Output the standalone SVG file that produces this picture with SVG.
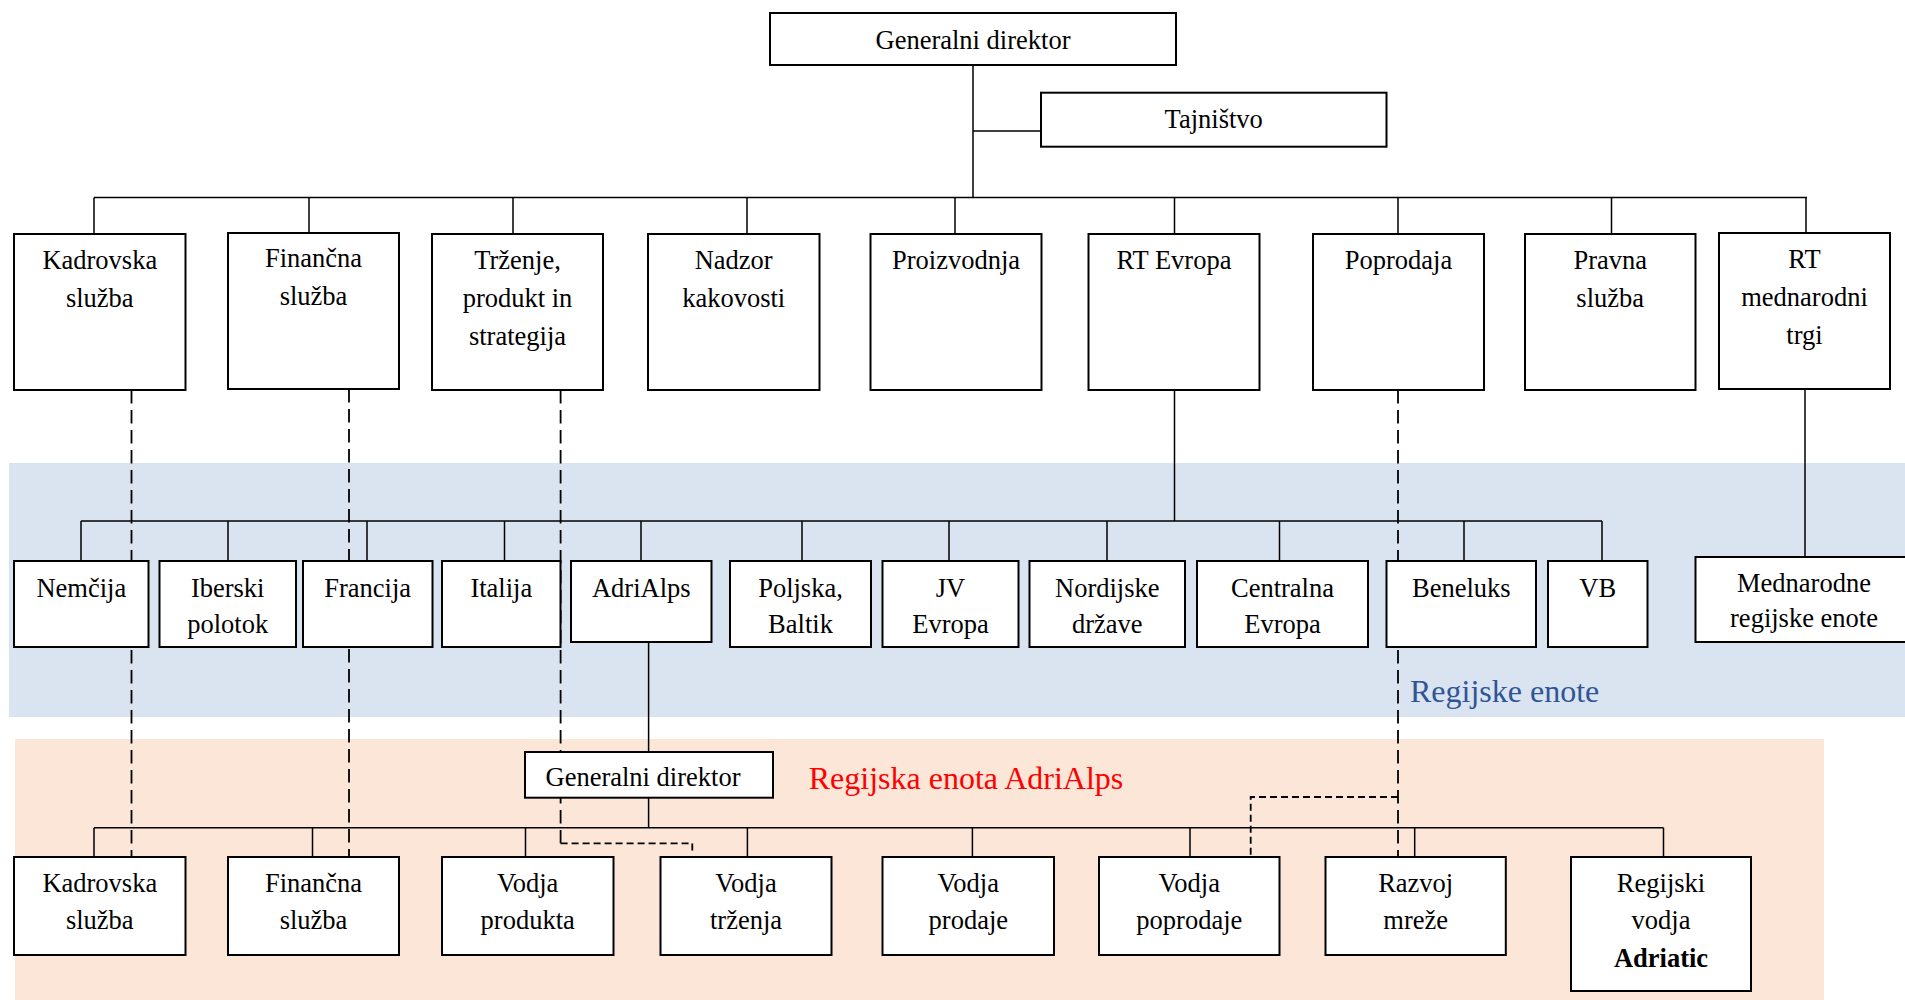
<svg xmlns="http://www.w3.org/2000/svg" width="1905" height="1000" viewBox="0 0 1905 1000">
  <style>
    .box { fill: #ffffff; stroke: #000000; stroke-width: 2; }
    .lbl { font-family: "Liberation Serif", "Times New Roman", serif; font-size: 26.5px; fill: #000000; text-anchor: middle; }
    .ln { fill: none; stroke: #000000; stroke-width: 1.5; }
    .dl { fill: none; stroke: #000000; stroke-width: 1.8; stroke-dasharray: 13.5 6.5; }
    .ds { fill: none; stroke: #000000; stroke-width: 1.8; stroke-dasharray: 7 4; }
    .band { font-family: "Liberation Serif", "Times New Roman", serif; font-size: 32px; }
  </style>

  <!-- background bands -->
  <rect x="0" y="0" width="1905" height="1000" fill="#ffffff"/>
  <rect id="band-regions" x="9" y="463" width="1896" height="254" fill="#DAE3F0"/>
  <rect id="band-adrialps" x="15" y="739" width="1809" height="261" fill="#FBE6D8"/>

  <!-- connectors -->
  <g id="connectors">
    <!-- head office -->
    <path class="ln" d="M973 65 V198 M973 131 H1041 M94 197.5 H1807"/>
    <path class="ln" d="M94 197.5 V234 M309 197.5 V234 M513 197.5 V234 M747 197.5 V234 M955 197.5 V234 M1174.5 197.5 V234 M1398 197.5 V234 M1611.5 197.5 V234 M1806 197.5 V234"/>
    <!-- regional units -->
    <path class="ln" d="M1174.5 390 V521 M81 521 H1602"/>
    <path class="ln" d="M81 521 V561 M228 521 V561 M367 521 V561 M504.5 521 V561 M641 521 V561 M802 521 V561 M949 521 V561 M1107 521 V561 M1279.5 521 V561 M1464 521 V561 M1602 521 V561"/>
    <path class="ln" d="M1805 390 V557"/>
    <!-- AdriAlps unit -->
    <path class="ln" d="M648.6 642 V752 M648.6 797.7 V827.7 M94 827.7 H1663.5"/>
    <path class="ln" d="M94 827.7 V857 M312.5 827.7 V857 M525.5 827.7 V857 M747.4 827.7 V857 M972.4 827.7 V857 M1190 827.7 V857 M1414.7 827.7 V857 M1663.5 827.7 V857"/>
    <!-- functional (dashed) links -->
    <path class="dl" d="M131.5 390 V857"/>
    <path class="dl" d="M349 389 V857"/>
    <path class="dl" d="M560.6 390 V843.3"/>
    <path class="ds" d="M560.6 843.3 H692.3 V851"/>
    <path class="dl" d="M1398 390 V857"/>
    <path class="ds" d="M1398 797 H1250.7 V857"/>
  </g>

  <!-- head office -->
  <g id="generalni-direktor">
    <rect class="box" x="770" y="13" width="406" height="52"/>
    <text class="lbl" x="973" y="48.5">Generalni direktor</text>
  </g>
  <g id="tajnistvo">
    <rect class="box" x="1041" y="92.7" width="345.5" height="54"/>
    <text class="lbl" x="1213.7" y="128">Tajništvo</text>
  </g>

  <!-- departments -->
  <g id="kadrovska-sluzba">
    <rect class="box" x="14" y="234" width="171.5" height="156"/>
    <text class="lbl"><tspan x="99.8" y="269">Kadrovska</tspan><tspan x="99.8" y="307">služba</tspan></text>
  </g>
  <g id="financna-sluzba">
    <rect class="box" x="228" y="233" width="171" height="156"/>
    <text class="lbl"><tspan x="313.5" y="267">Finančna</tspan><tspan x="313.5" y="305">služba</tspan></text>
  </g>
  <g id="trzenje">
    <rect class="box" x="432" y="234" width="171" height="156"/>
    <text class="lbl"><tspan x="517.5" y="269">Trženje,</tspan><tspan x="517.5" y="307">produkt in</tspan><tspan x="517.5" y="344.5">strategija</tspan></text>
  </g>
  <g id="nadzor-kakovosti">
    <rect class="box" x="648" y="234" width="171.5" height="156"/>
    <text class="lbl"><tspan x="733.7" y="269">Nadzor</tspan><tspan x="733.7" y="307">kakovosti</tspan></text>
  </g>
  <g id="proizvodnja">
    <rect class="box" x="870.5" y="234" width="171" height="156"/>
    <text class="lbl" x="956" y="269">Proizvodnja</text>
  </g>
  <g id="rt-evropa">
    <rect class="box" x="1088.5" y="234" width="171" height="156"/>
    <text class="lbl" x="1174" y="269">RT Evropa</text>
  </g>
  <g id="poprodaja">
    <rect class="box" x="1313" y="234" width="171" height="156"/>
    <text class="lbl" x="1398.5" y="269">Poprodaja</text>
  </g>
  <g id="pravna-sluzba">
    <rect class="box" x="1525" y="234" width="170.5" height="156"/>
    <text class="lbl"><tspan x="1610.2" y="269">Pravna</tspan><tspan x="1610.2" y="307">služba</tspan></text>
  </g>
  <g id="rt-mednarodni-trgi">
    <rect class="box" x="1719" y="233" width="171" height="156"/>
    <text class="lbl"><tspan x="1804.5" y="268">RT</tspan><tspan x="1804.5" y="306">mednarodni</tspan><tspan x="1804.5" y="343.5">trgi</tspan></text>
  </g>

  <!-- regional units -->
  <g id="nemcija">
    <rect class="box" x="14" y="561" width="134.5" height="86"/>
    <text class="lbl" x="81.3" y="597">Nemčija</text>
  </g>
  <g id="iberski-polotok">
    <rect class="box" x="159.5" y="561" width="136.5" height="86"/>
    <text class="lbl"><tspan x="227.7" y="597">Iberski</tspan><tspan x="227.7" y="633">polotok</tspan></text>
  </g>
  <g id="francija">
    <rect class="box" x="303" y="561" width="129.5" height="86"/>
    <text class="lbl" x="367.7" y="597">Francija</text>
  </g>
  <g id="italija">
    <rect class="box" x="442" y="561" width="118.5" height="86"/>
    <text class="lbl" x="501.3" y="597">Italija</text>
  </g>
  <g id="adrialps">
    <rect class="box" x="571" y="561" width="140.5" height="81"/>
    <text class="lbl" x="641.3" y="597">AdriAlps</text>
  </g>
  <g id="poljska-baltik">
    <rect class="box" x="730" y="561" width="141" height="86"/>
    <text class="lbl"><tspan x="800.5" y="597">Poljska,</tspan><tspan x="800.5" y="633">Baltik</tspan></text>
  </g>
  <g id="jv-evropa">
    <rect class="box" x="882.5" y="561" width="136" height="86"/>
    <text class="lbl"><tspan x="950.5" y="597">JV</tspan><tspan x="950.5" y="633">Evropa</tspan></text>
  </g>
  <g id="nordijske-drzave">
    <rect class="box" x="1029.5" y="561" width="155.5" height="86"/>
    <text class="lbl"><tspan x="1107.3" y="597">Nordijske</tspan><tspan x="1107.3" y="633">države</tspan></text>
  </g>
  <g id="centralna-evropa">
    <rect class="box" x="1197" y="561" width="171" height="86"/>
    <text class="lbl"><tspan x="1282.5" y="597">Centralna</tspan><tspan x="1282.5" y="633">Evropa</tspan></text>
  </g>
  <g id="beneluks">
    <rect class="box" x="1386.5" y="561" width="149.5" height="86"/>
    <text class="lbl" x="1461.3" y="597">Beneluks</text>
  </g>
  <g id="vb">
    <rect class="box" x="1548" y="561" width="99.5" height="86"/>
    <text class="lbl" x="1597.7" y="597">VB</text>
  </g>
  <g id="mednarodne-regijske-enote">
    <rect class="box" x="1695.5" y="557" width="216.5" height="85"/>
    <text class="lbl"><tspan x="1804" y="591.7">Mednarodne</tspan><tspan x="1804" y="627.3">regijske enote</tspan></text>
  </g>

  <!-- AdriAlps regional unit -->
  <g id="adrialps-generalni-direktor">
    <rect class="box" x="525" y="752" width="248" height="45.7"/>
    <text class="lbl" x="643" y="786">Generalni direktor</text>
  </g>
  <g id="adrialps-kadrovska-sluzba">
    <rect class="box" x="14" y="857" width="171.5" height="98"/>
    <text class="lbl"><tspan x="99.8" y="891.7">Kadrovska</tspan><tspan x="99.8" y="929.3">služba</tspan></text>
  </g>
  <g id="adrialps-financna-sluzba">
    <rect class="box" x="228" y="857" width="171" height="98"/>
    <text class="lbl"><tspan x="313.5" y="891.7">Finančna</tspan><tspan x="313.5" y="929.3">služba</tspan></text>
  </g>
  <g id="vodja-produkta">
    <rect class="box" x="442" y="857" width="171.5" height="98"/>
    <text class="lbl"><tspan x="527.7" y="891.7">Vodja</tspan><tspan x="527.7" y="929.3">produkta</tspan></text>
  </g>
  <g id="vodja-trzenja">
    <rect class="box" x="660.5" y="857" width="171" height="98"/>
    <text class="lbl"><tspan x="746" y="891.7">Vodja</tspan><tspan x="746" y="929.3">trženja</tspan></text>
  </g>
  <g id="vodja-prodaje">
    <rect class="box" x="882.5" y="857" width="171.5" height="98"/>
    <text class="lbl"><tspan x="968.3" y="891.7">Vodja</tspan><tspan x="968.3" y="929.3">prodaje</tspan></text>
  </g>
  <g id="vodja-poprodaje">
    <rect class="box" x="1099" y="857" width="180.5" height="98"/>
    <text class="lbl"><tspan x="1189.3" y="891.7">Vodja</tspan><tspan x="1189.3" y="929.3">poprodaje</tspan></text>
  </g>
  <g id="razvoj-mreze">
    <rect class="box" x="1325.5" y="857" width="180.3" height="98"/>
    <text class="lbl"><tspan x="1415.7" y="891.7">Razvoj</tspan><tspan x="1415.7" y="929.3">mreže</tspan></text>
  </g>
  <g id="regijski-vodja-adriatic">
    <rect class="box" x="1571" y="857" width="180" height="134"/>
    <text class="lbl"><tspan x="1661" y="891.7">Regijski</tspan><tspan x="1661" y="929.3">vodja</tspan><tspan x="1661" y="966.7" font-weight="bold">Adriatic</tspan></text>
  </g>

  <!-- band captions -->
  <text class="band" x="1410" y="701.7" fill="#2F5597">Regijske enote</text>
  <text class="band" x="808.7" y="789" fill="#FF0000">Regijska enota AdriAlps</text>
</svg>
